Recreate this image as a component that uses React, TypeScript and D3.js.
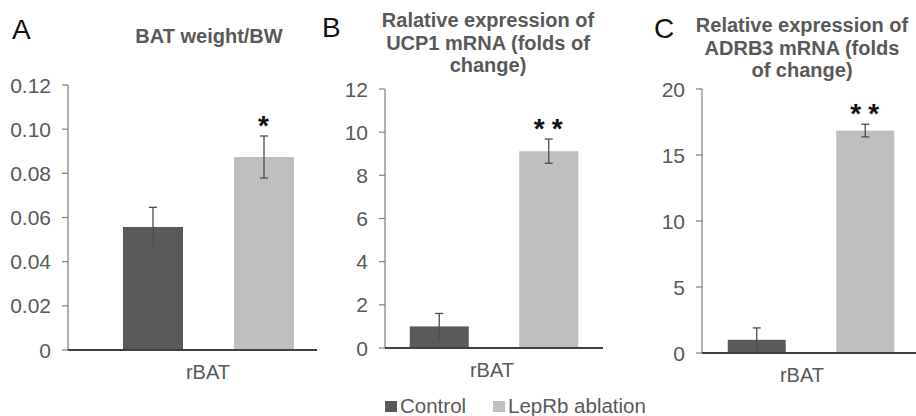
import React from 'react';
import * as d3 from 'd3';

const width = 916;
const height = 416;
const font = 'Liberation Sans, Arial, sans-serif';

const category = 'rBAT';
const series = ['Control', 'LepRb ablation'];
const colors = ['#595959', '#bfbfbf'];

const batMeans = [0.0557, 0.0874];
const batErrors = [0.0089, 0.0095];
const batStars = ['', '*'];
const batTicks = [0, 0.02, 0.04, 0.06, 0.08, 0.1, 0.12];

const ucp1Means = [1.0, 9.12];
const ucp1Errors = [0.6, 0.56];
const ucp1Stars = ['', '**'];
const ucp1Ticks = [0, 2, 4, 6, 8, 10, 12];

const adrb3Means = [1.0, 16.85];
const adrb3Errors = [0.9, 0.48];
const adrb3Stars = ['', '**'];
const adrb3Ticks = [0, 5, 10, 15, 20];

const panels = [
  {
    letter: 'A', letterX: 12, letterY: 39,
    title: ['BAT weight/BW'], titleX: 209, titleY: 43,
    means: batMeans, errors: batErrors, stars: batStars, ticks: batTicks,
    fmt: (d: number) => (d === 0 ? '0' : d.toFixed(2)),
    axisX: 68, axisEnd: 317, yTop: 85, yBottom: 350, cx: 208.5, step: 111, bw: 60, labelX: 208,
  },
  {
    letter: 'B', letterX: 322, letterY: 37,
    title: ['Ralative expression of', 'UCP1 mRNA (folds of', 'change)'], titleX: 488, titleY: 27,
    means: ucp1Means, errors: ucp1Errors, stars: ucp1Stars, ticks: ucp1Ticks,
    fmt: (d: number) => String(d),
    axisX: 385, axisEnd: 603, yTop: 89, yBottom: 348, cx: 494, step: 109.5, bw: 59, labelX: 492,
  },
  {
    letter: 'C', letterX: 654, letterY: 38,
    title: ['Relative expression of', 'ADRB3 mRNA (folds', 'of change)'], titleX: 802, titleY: 32,
    means: adrb3Means, errors: adrb3Errors, stars: adrb3Stars, ticks: adrb3Ticks,
    fmt: (d: number) => String(d),
    axisX: 702, axisEnd: 916, yTop: 89, yBottom: 353, cx: 811, step: 108.5, bw: 58, labelX: 802,
  },
];

const Panel = ({ p }: { p: typeof panels[number] }) => {
  const yMax = p.ticks[p.ticks.length - 1];
  const y = d3.scaleLinear().domain([0, yMax]).range([p.yBottom, p.yTop]);
  const pi = 1 - p.bw / p.step;
  // outer padding chosen so the band step matches the picture
  const po = pi / 2;
  const x = d3.scaleBand<string>().domain(series).range([p.cx - p.step, p.cx + p.step])
    .paddingInner(pi).paddingOuter(po);

  return (
    <g>
      <text x={p.letterX} y={p.letterY} fontSize={28} fill="#111" fontFamily={font}>{p.letter}</text>
      {p.title.map((t, i) => (
        <text key={i} x={p.titleX} y={p.titleY + i * 22.7} textAnchor="middle" fontSize={20}
          fontWeight="bold" fill="#595959" fontFamily={font}>{t}</text>
      ))}
      <line x1={p.axisX} x2={p.axisX} y1={y(yMax)} y2={y(0)} stroke="#7f7f7f" strokeWidth={1.2} />
      {p.ticks.map(t => (
        <g key={t}>
          <line x1={p.axisX - 6} x2={p.axisX} y1={y(t)} y2={y(t)} stroke="#7f7f7f" strokeWidth={1.2} />
          <text x={p.axisX - 17} y={y(t)} dy="0.36em" textAnchor="end" fontSize={21}
            fill="#595959" fontFamily={font}>{p.fmt(t)}</text>
        </g>
      ))}
      {series.map((s, i) => {
        const bx = x(s) as number;
        const mid = bx + x.bandwidth() / 2;
        const top = y(p.means[i] + p.errors[i]);
        const bot = y(p.means[i] - p.errors[i]);
        return (
          <g key={s}>
            <rect x={bx} y={y(p.means[i])} width={x.bandwidth()} height={y(0) - y(p.means[i])} fill={colors[i]} />
            <line x1={mid} x2={mid} y1={top} y2={bot} stroke="#4d4d4d" strokeWidth={1.3} />
            <line x1={mid - 4} x2={mid + 4} y1={top} y2={top} stroke="#4d4d4d" strokeWidth={1.3} />
            {i === 1 && <line x1={mid - 4} x2={mid + 4} y1={bot} y2={bot} stroke="#4d4d4d" strokeWidth={1.3} />}
            {p.stars[i] && (
              <text x={mid + 3} y={top - 1} textAnchor="middle" fontSize={28} fontWeight="bold" letterSpacing={7}
                fill="#111" fontFamily={font}>{p.stars[i]}</text>
            )}
          </g>
        );
      })}
      <line x1={p.axisX} x2={p.axisEnd} y1={y(0)} y2={y(0)} stroke="#404040" strokeWidth={1.8} />
      <text x={p.labelX} y={y(0) + 29} textAnchor="middle" fontSize={20} fill="#595959" fontFamily={font}>{category}</text>
    </g>
  );
};

const App = () => {
  return (
    <svg width={width} height={height} style={{ position: 'absolute', left: 0, top: 0, background: '#fff' }}>
      <rect width={width} height={height} fill="#fff" />
      {panels.map(p => <Panel key={p.letter} p={p} />)}
      <g>
        {series.map((s, i) => {
          const lx = [385, 493][i];
          return (
            <g key={s}>
              <rect x={lx} y={401} width={12} height={11} fill={colors[i]} />
              <text x={lx + 15} y={413} fontSize={20.5} fill="#595959" fontFamily={font}>{s}</text>
            </g>
          );
        })}
      </g>
    </svg>
  );
};

export default App;
